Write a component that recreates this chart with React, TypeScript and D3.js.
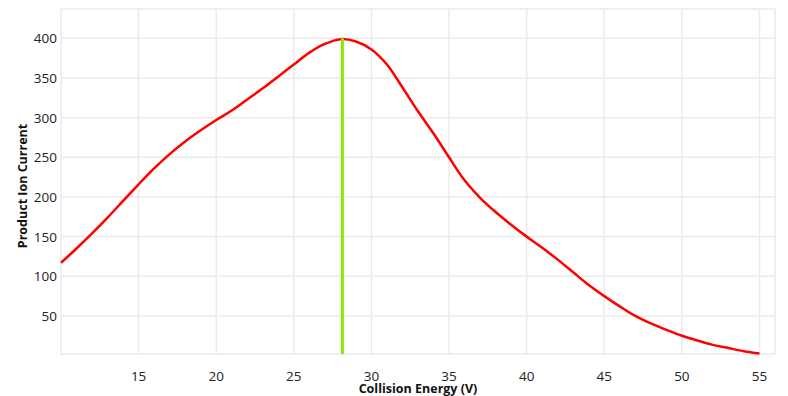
import React from "react";
import * as d3 from "d3";

const energies = [10,11,12,13,14,15,16,17,18,19,20,21,22,23,24,25,26,27,28,29,30,31,32,33,34,35,36,37,38,39,40,41,42,43,44,45,46,47,48,49,50,51,52,53,54,55];
const currents = [117,135,154,174,195,216,236,254,270,284,297,309,323,337,352,367,382,393,399,396,386,367,338,308,280,250,221,199,181,165,150,136,121,105,89,75,62,50,40.5,32.5,25,19,13.5,9.5,5.5,2.5];
const xTicks = [15,20,25,30,35,40,45,50,55];
const yTicks = [50,100,150,200,250,300,350,400];
const optimumEnergy = 28.13;
const optimumCurrent = 400;
const xTitle = "Collision Energy (V)";
const yTitle = "Product Ion Current";

export default function App() {
  const W = 788, H = 396;
  const left = 61, right = 775, top = 9, bottom = 354;
  const x = d3.scaleLinear().domain([10, 56]).range([left, right]);
  const y = d3.scaleLinear().domain([2, 437]).range([bottom, top]);
  const pts = energies.map((e, i) => [e, currents[i]] as [number, number]);
  const line = d3.line<[number, number]>()
    .x(d => x(d[0]))
    .y(d => y(d[1]))
    .curve(d3.curveCatmullRom.alpha(0.5));
  const font = "'Open Sans', 'DejaVu Sans', sans-serif";
  const grid = "#ebebeb";
  return (
    <svg width={W} height={H} style={{ position: "absolute", left: 0, top: 0, background: "#fff" }}>
      <rect x={left} y={top} width={right - left} height={bottom - top} fill="none" stroke={grid} strokeWidth={1.5} />
      {xTicks.map(t => (
        <line key={"gx" + t} x1={x(t)} x2={x(t)} y1={top} y2={bottom} stroke={grid} strokeWidth={1.5} />
      ))}
      {yTicks.map(t => (
        <line key={"gy" + t} x1={left} x2={right} y1={y(t)} y2={y(t)} stroke={grid} strokeWidth={1.5} />
      ))}
      {xTicks.map(t => (
        <text key={"tx" + t} x={x(t)} y={381} textAnchor="middle" fontFamily={font} fontSize={13.5} fill="#222">{t}</text>
      ))}
      {yTicks.map(t => (
        <text key={"ty" + t} x={57} y={y(t) + 5} textAnchor="end" fontFamily={font} fontSize={13.5} fill="#222">{t}</text>
      ))}
      <path d={line(pts) || ""} fill="none" stroke="#ff0000" strokeWidth={2.5} strokeLinejoin="round" />
      <line x1={x(optimumEnergy)} x2={x(optimumEnergy)} y1={y(optimumCurrent)} y2={bottom} stroke="#80f000" strokeWidth={3} />
      <text x={(left + right) / 2} y={393} textAnchor="middle" fontFamily={font} fontWeight="bold" fontSize={12.5} fill="#111">{xTitle}</text>
      <text transform={`translate(27, 186) rotate(-90)`} textAnchor="middle" fontFamily={font} fontWeight="bold" fontSize={12.5} fill="#111">{yTitle}</text>
    </svg>
  );
}
